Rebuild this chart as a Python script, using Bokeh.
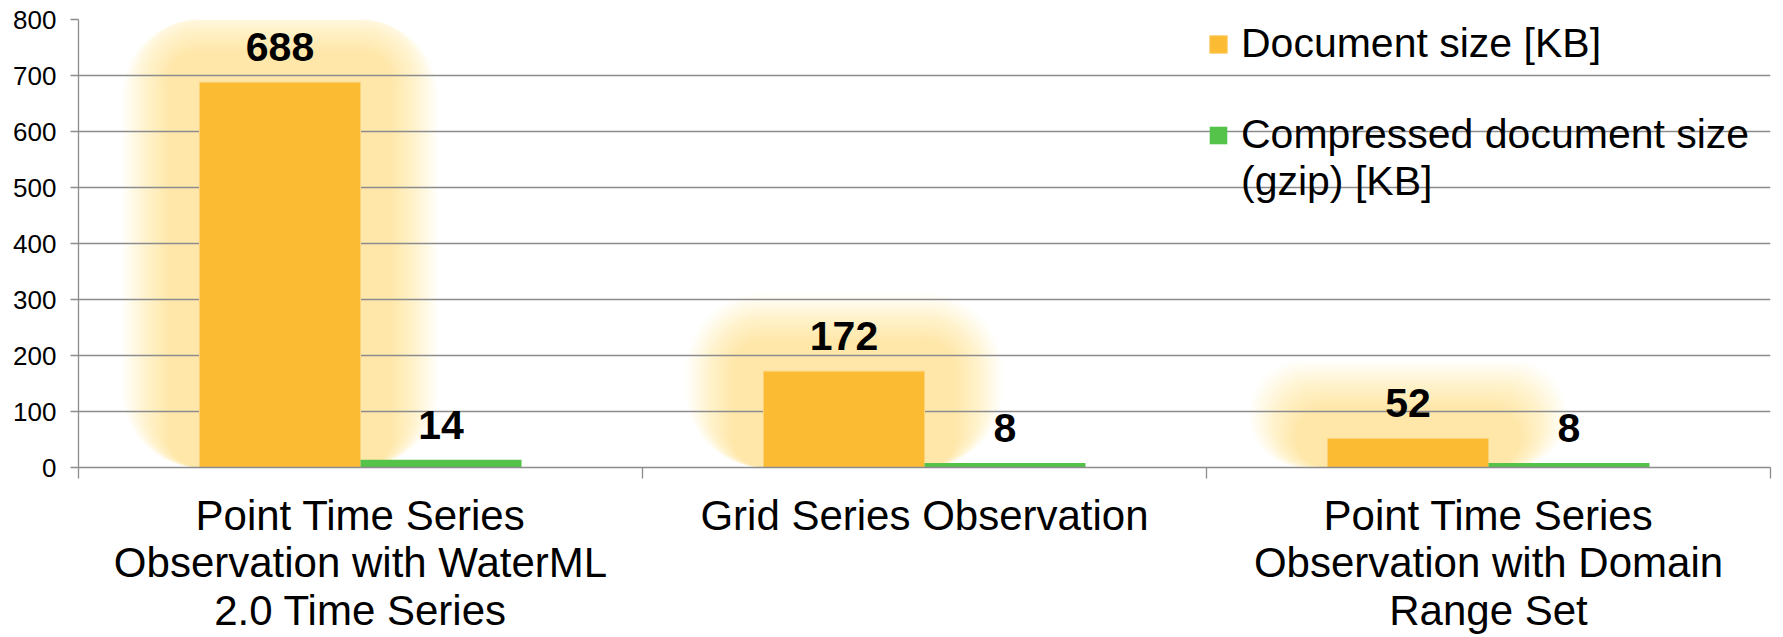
import numpy as np
from bokeh.plotting import figure
from bokeh.models import (ColumnDataSource, Range1d, FixedTicker, LabelSet,
                          Legend, LegendItem)
from bokeh.core.properties import value
from bokeh.embed import file_html
from bokeh.resources import INLINE

# ---------------- data ----------------
categories = [
    "Point Time Series Observation with WaterML 2.0 Time Series",
    "Grid Series Observation",
    "Point Time Series Observation with Domain Range Set",
]
category_labels = [
    "Point Time Series\nObservation with WaterML\n2.0 Time Series",
    "Grid Series Observation",
    "Point Time Series\nObservation with Domain\nRange Set",
]
series_names = ["Document size [KB]", "Compressed document size (gzip) [KB]"]
doc_size = [688, 172, 52]
gzip_size = [14, 8, 8]
y_ticks = [0, 100, 200, 300, 400, 500, 600, 700, 800]

# ---------------- style ----------------
ORANGE = "#FBBC33"
GREEN = "#55C24A"
GRAY = "#8C8C8C"
FONT = "Liberation Sans"

W, H = 1783, 637
BL, BR, BT, BB = 78, 13, 19, 170
Y_MAX = 800

p = figure(width=W, height=H, output_backend="svg", toolbar_location=None,
           x_range=Range1d(0, len(categories)), y_range=Range1d(0, Y_MAX),
           min_border_left=BL, min_border_right=BR, min_border_top=BT,
           min_border_bottom=BB, background_fill_color="white",
           border_fill_color="white")
p.outline_line_color = None

frame_w = W - BL - BR
frame_h = H - BT - BB
px_x = frame_w / len(categories)
px_y = frame_h / Y_MAX

bar_w = 0.2855
centers = np.arange(len(categories)) + 0.5
x_doc = centers - bar_w / 2
x_gz = centers + bar_w / 2

# soft glow behind the orange bars
N_GLOW = 24
for k in range(N_GLOW):
    d = 32 + 2 * k
    p.vbar(x=x_doc, width=bar_w + 2 * d / px_x,
           top=[v + d / px_y for v in doc_size], bottom=-d / px_y,
           fill_color=ORANGE, fill_alpha=0.02, line_color=None,
           border_radius=d, level="image")

src_doc = ColumnDataSource(dict(x=x_doc, top=doc_size,
                                label=[str(v) for v in doc_size]))
src_gz = ColumnDataSource(dict(x=x_gz, top=gzip_size,
                               label=[str(v) for v in gzip_size]))

r_doc = p.vbar(x="x", top="top", bottom=0, width=bar_w, source=src_doc,
               fill_color=ORANGE, line_color="#FCD27A", line_width=1)
r_gz = p.vbar(x="x", top="top", bottom=0, width=bar_w, source=src_gz,
              fill_color=GREEN, line_color=None)

for src in (src_doc, src_gz):
    p.add_layout(LabelSet(x="x", y="top", text="label", source=src,
                          text_align="center", text_baseline="alphabetic",
                          y_offset=21, text_font=value(FONT),
                          text_font_size="41px", text_font_style="bold",
                          text_color="black"))

# ---------------- axes ----------------
p.xaxis.ticker = FixedTicker(ticks=[float(c) for c in centers],
                             minor_ticks=list(range(len(categories) + 1)))
p.xaxis.major_label_overrides = {float(c): lab for c, lab in
                                 zip(centers, category_labels)}
p.xaxis.major_tick_out = 0
p.xaxis.major_tick_in = 0
p.xaxis.minor_tick_out = 11
p.xaxis.minor_tick_in = 0
p.xaxis.minor_tick_line_color = GRAY
p.xaxis.minor_tick_line_width = 1.3
p.xaxis.major_label_standoff = 13
p.xaxis.major_label_text_font = FONT
p.xaxis.major_label_text_font_size = "42px"
p.xaxis.major_label_text_line_height = 1.02
p.xaxis.major_label_text_color = "black"

p.yaxis.ticker = FixedTicker(ticks=y_ticks)
p.yaxis.major_tick_out = 8
p.yaxis.major_tick_in = 0
p.yaxis.minor_tick_line_color = None
p.yaxis.major_tick_line_color = GRAY
p.yaxis.major_tick_line_width = 1.3
p.yaxis.major_label_standoff = 14
p.yaxis.major_label_text_font = FONT
p.yaxis.major_label_text_font_size = "26px"
p.yaxis.major_label_text_color = "black"

for ax in (p.xaxis, p.yaxis):
    ax.axis_line_color = GRAY
    ax.axis_line_width = 1.3

p.xgrid.visible = False
p.ygrid.ticker = FixedTicker(ticks=y_ticks)
p.ygrid.grid_line_color = GRAY
p.ygrid.grid_line_width = 1.3

# ---------------- legend ----------------
legend = Legend(items=[
    LegendItem(label=series_names[0], renderers=[r_doc]),
    LegendItem(label=" ", renderers=[]),
    LegendItem(label="Compressed document size", renderers=[r_gz]),
    LegendItem(label="(gzip) [KB]", renderers=[]),
], location=(1129, 262), orientation="vertical",
    glyph_width=22, glyph_height=22, label_height=44, label_standoff=12,
    spacing=-2, padding=2, margin=0,
    label_text_font=FONT, label_text_font_size="41px",
    label_text_color="black",
    background_fill_alpha=0, border_line_color=None)
p.add_layout(legend)

open("out.html", "w").write(file_html(p, INLINE))
